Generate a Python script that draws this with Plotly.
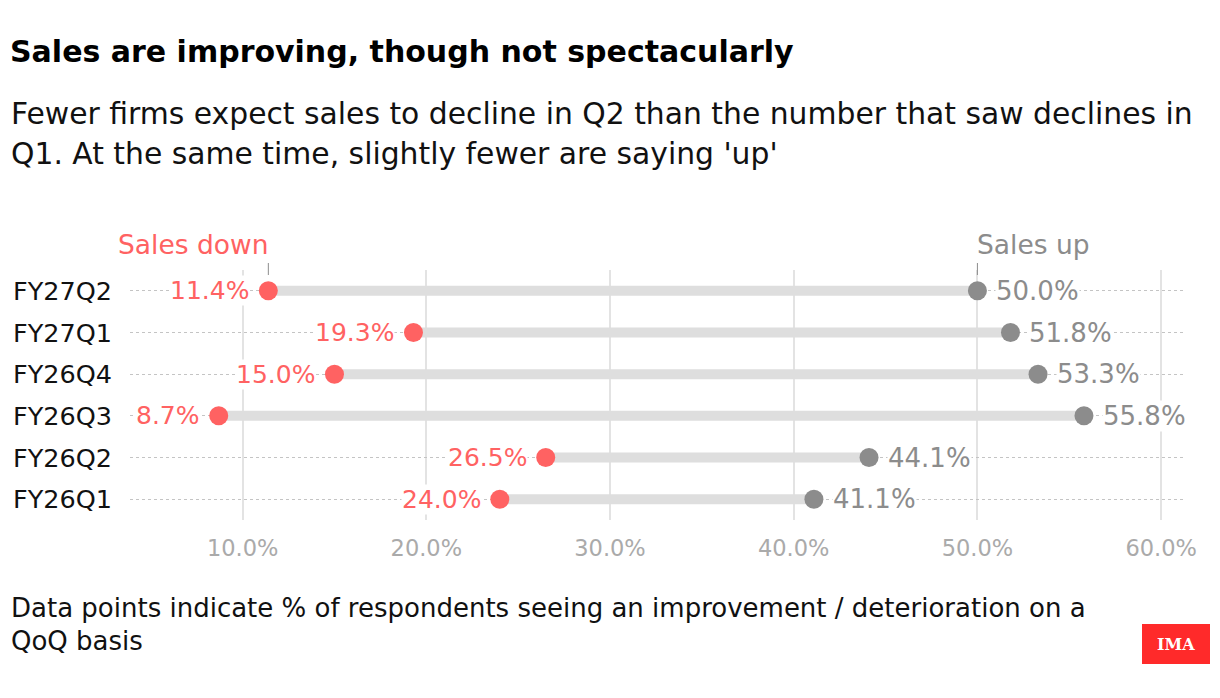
import plotly.graph_objects as go

categories = ["FY26Q1", "FY26Q2", "FY26Q3", "FY26Q4", "FY27Q1", "FY27Q2"]
sales_down = [24.0, 26.5, 8.7, 15.0, 19.3, 11.4]
sales_up = [41.1, 44.1, 55.8, 53.3, 51.8, 50.0]
x_ticks = [10, 20, 30, 40, 50, 60]
x_tick_labels = ["10.0%", "20.0%", "30.0%", "40.0%", "50.0%", "60.0%"]

RED = "#ff6262"
GRAY = "#8c8c8c"
FONT = "DejaVu Sans, Arial, sans-serif"

W, H = 1220, 698
L, R, T, B = 130, 35, 270, 178
PW, PH = W - L - R, H - T - B


def px(x):
    return (x - L) / PW


def py(y):
    return (H - B - y) / PH


ypos = list(range(len(categories)))

fig = go.Figure()

bx, by = [], []
for i in ypos:
    bx += [sales_down[i], sales_up[i], None]
    by += [i, i, None]
fig.add_trace(go.Scatter(x=bx, y=by, mode="lines",
                         line=dict(color="#dedede", width=10),
                         hoverinfo="skip", showlegend=False))
fig.add_trace(go.Scatter(x=sales_down, y=ypos, mode="markers",
                         marker=dict(color=RED, size=19),
                         name="Sales down", showlegend=False))
fig.add_trace(go.Scatter(x=sales_up, y=ypos, mode="markers",
                         marker=dict(color=GRAY, size=19),
                         name="Sales up", showlegend=False))

ann = []
for i in ypos:
    ann.append(dict(x=sales_down[i], y=i, xref="x", yref="y",
                    text=f"{sales_down[i]:.1f}%", showarrow=False,
                    xanchor="right", yanchor="middle", xshift=-18, bgcolor="white",
                    borderpad=0,
                    font=dict(family=FONT, size=25, color=RED)))
    ann.append(dict(x=sales_up[i], y=i, xref="x", yref="y",
                    text=f"{sales_up[i]:.1f}%", showarrow=False,
                    xanchor="left", yanchor="middle", xshift=18, bgcolor="white",
                    borderpad=0,
                    font=dict(family=FONT, size=26, color=GRAY)))
    ann.append(dict(x=px(11), y=i, xref="paper", yref="y",
                    text=categories[i], showarrow=False, xanchor="left",
                    yanchor="middle",
                    font=dict(family=FONT, size=25.5, color="#111111")))

ann.append(dict(x=sales_down[-1], y=py(245), xref="x", yref="paper",
                text="Sales down", showarrow=False, xanchor="right", yanchor="middle",
                xshift=2, font=dict(family=FONT, size=26.5, color=RED)))
ann.append(dict(x=sales_up[-1], y=py(245), xref="x", yref="paper",
                text="Sales up", showarrow=False, xanchor="left", yanchor="middle",
                xshift=-2, font=dict(family=FONT, size=26.5, color=GRAY)))


def text_line(txt, xp, yp, size, color="#111111", bold=False):
    return dict(x=px(xp), y=py(yp), xref="paper", yref="paper",
                text=f"<b>{txt}</b>" if bold else txt, showarrow=False,
                xanchor="left", yanchor="middle", align="left",
                font=dict(family=FONT, size=size, color=color))


ann.append(text_line("Sales are improving, though not spectacularly", 8, 52, 30,
                     "#000000", bold=True))
ann.append(text_line("Fewer firms expect sales to decline in Q2 than the number that saw declines in",
                     9, 113, 29.8))
ann.append(text_line("Q1. At the same time, slightly fewer are saying 'up'", 9, 153, 29.8))
ann.append(text_line("Data points indicate % of respondents seeing an improvement / deterioration on a",
                     9, 608, 26))
ann.append(text_line("QoQ basis", 9, 641, 26))
ann.append(dict(x=px(1176), y=py(644), xref="paper", yref="paper",
                text="<b>IMA</b>", showarrow=False, xanchor="center", yanchor="middle",
                font=dict(family="DejaVu Serif, serif", size=16, color="white")))

shapes = [
    dict(type="line", xref="x", yref="paper", x0=sales_down[-1], x1=sales_down[-1],
         y0=py(263), y1=py(275), line=dict(color=GRAY, width=1)),
    dict(type="line", xref="x", yref="paper", x0=sales_up[-1], x1=sales_up[-1],
         y0=py(263), y1=py(275), line=dict(color=GRAY, width=1)),
    dict(type="rect", xref="paper", yref="paper", x0=px(1142), x1=px(1210),
         y0=py(664), y1=py(624), fillcolor="#ff2a2a", line=dict(width=0)),
]

fig.update_layout(
    width=W, height=H,
    margin=dict(l=L, r=R, t=T, b=B),
    paper_bgcolor="white", plot_bgcolor="white",
    annotations=ann, shapes=shapes,
    xaxis=dict(range=[3.87, 61.3], tickvals=x_ticks, ticktext=x_tick_labels,
               showgrid=True, gridcolor="#e3e3e3", gridwidth=1.5,
               zeroline=False, showline=False, ticks="",
               ticklabelstandoff=12,
               tickfont=dict(family=FONT, size=22.5, color="#aaaaaa")),
    yaxis=dict(range=[-0.5, 5.5], tickvals=ypos, showticklabels=False,
               showgrid=True, gridcolor="#c4c4c4", griddash="dot", gridwidth=1,
               zeroline=False, showline=False, ticks=""),
    hovermode=False,
)

fig.write_html("out.html")
